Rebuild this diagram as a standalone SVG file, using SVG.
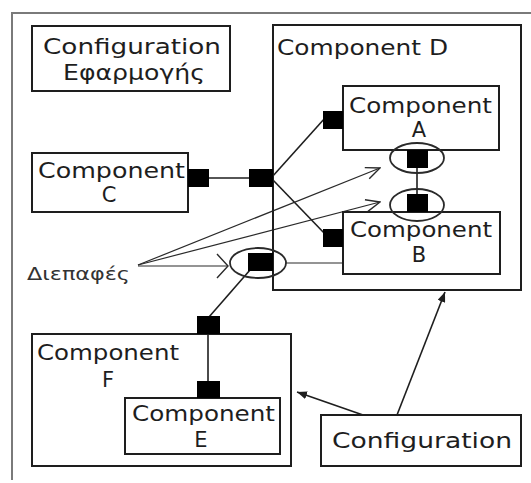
<svg xmlns="http://www.w3.org/2000/svg" width="531" height="483" viewBox="0 0 531 483">
  <style>
    .box { fill: none; stroke: #1e1e1e; stroke-width: 2; }
    .port { fill: #000; }
    .ring { fill: none; stroke: #2a2a2a; stroke-width: 1.8; }
    .wire { fill: none; stroke: #1e1e1e; stroke-width: 1.6; }
    .thin { fill: none; stroke: #2a2a2a; stroke-width: 1.2; }
    .lbl { font-family: "DejaVu Sans", "Liberation Sans", sans-serif; font-size: 21px; fill: #1e1e1e; }
    .mid { text-anchor: middle; }
    .small { font-size: 17px; fill: #333; }
  </style>
  <defs>
    <marker id="openHead" viewBox="0 0 16 14" refX="15" refY="7" markerWidth="16" markerHeight="14" markerUnits="userSpaceOnUse" orient="auto">
      <path d="M1,1 L15,7 L1,13" fill="none" stroke="#2a2a2a" stroke-width="1.4"/>
    </marker>
    <marker id="openWide" viewBox="0 0 13 26" refX="12" refY="13" markerWidth="13" markerHeight="26" markerUnits="userSpaceOnUse" orient="auto">
      <path d="M1,1 L12,13 L1,25" fill="none" stroke="#2a2a2a" stroke-width="1.4"/>
    </marker>
    <marker id="solidHead" viewBox="0 0 10 8" refX="10" refY="4" markerWidth="10" markerHeight="8" markerUnits="userSpaceOnUse" orient="auto">
      <path d="M0,0 L10,4 L0,8 Z" fill="#1e1e1e"/>
    </marker>
  </defs>

  <rect width="531" height="483" fill="#fff"/>

  <!-- outer frame (top and left edges) -->
  <path d="M12,480 L12,13 L531,13" fill="none" stroke="#7a7a7a" stroke-width="2"/>

  <g id="connectors">
    <!-- C to D -->
    <line class="wire" x1="209" y1="178" x2="249" y2="178"/>
    <!-- D to A and B -->
    <line class="wire" x1="272" y1="177" x2="325" y2="118"/>
    <line class="wire" x1="272" y1="179" x2="326" y2="235"/>
    <!-- A to B -->
    <line class="wire" x1="417" y1="168" x2="417" y2="195"/>
    <!-- lower D port to B -->
    <line class="thin" x1="286" y1="263" x2="343" y2="263"/>
    <!-- lower D port to F -->
    <line class="wire" x1="250" y1="270" x2="209" y2="317"/>
    <!-- F to E -->
    <line class="wire" x1="208" y1="334" x2="208" y2="381"/>
    <!-- interface pointers -->
    <line class="thin" x1="138" y1="266" x2="228" y2="266" marker-end="url(#openWide)"/>
    <line class="thin" x1="138" y1="265" x2="380" y2="168" marker-end="url(#openHead)"/>
    <line class="thin" x1="138" y1="265" x2="380" y2="202" marker-end="url(#openHead)"/>
    <!-- configuration links -->
    <line class="wire" x1="397" y1="415" x2="445" y2="292" marker-end="url(#solidHead)"/>
    <line class="wire" x1="363" y1="415" x2="297" y2="392" marker-end="url(#solidHead)"/>
  </g>

  <g id="app-config">
    <rect class="box" x="32" y="26" width="198" height="65"/>
    <text class="lbl mid" x="132" y="54" textLength="178" lengthAdjust="spacingAndGlyphs">Configuration</text>
    <text class="lbl mid" x="134" y="80" textLength="142" lengthAdjust="spacingAndGlyphs">Εφαρμογής</text>
  </g>

  <g id="component-c">
    <rect class="box" x="32" y="153" width="156" height="59"/>
    <rect class="port" x="188" y="169" width="21" height="18"/>
    <text class="lbl" x="38" y="178" textLength="147" lengthAdjust="spacingAndGlyphs">Component</text>
    <text class="lbl mid" x="109" y="202">C</text>
  </g>

  <g id="component-d">
    <rect class="box" x="273" y="25" width="248" height="265"/>
    <rect class="port" x="249" y="169" width="24" height="18"/>
    <rect class="port" x="248" y="253" width="25" height="18"/>
    <ellipse class="ring" cx="258" cy="263" rx="28" ry="15"/>
    <text class="lbl" x="277" y="55" textLength="171" lengthAdjust="spacingAndGlyphs">Component D</text>
  </g>

  <g id="component-a">
    <rect class="box" x="343" y="86" width="156" height="64"/>
    <rect class="port" x="323" y="111" width="20" height="18"/>
    <rect class="port" x="407" y="150" width="21" height="18"/>
    <ellipse class="ring" cx="417" cy="158" rx="27" ry="15"/>
    <text class="lbl" x="349" y="113" textLength="143" lengthAdjust="spacingAndGlyphs">Component</text>
    <text class="lbl mid" x="419" y="137">A</text>
  </g>

  <g id="component-b">
    <rect class="box" x="343" y="212" width="157" height="62"/>
    <rect class="port" x="323" y="229" width="20" height="18"/>
    <rect class="port" x="407" y="194" width="21" height="18"/>
    <ellipse class="ring" cx="417" cy="205" rx="27" ry="16"/>
    <text class="lbl" x="350" y="237" textLength="142" lengthAdjust="spacingAndGlyphs">Component</text>
    <text class="lbl mid" x="419" y="262">B</text>
  </g>

  <g id="component-f">
    <rect class="box" x="32" y="334" width="259" height="132"/>
    <rect class="port" x="197" y="316" width="23" height="18"/>
    <text class="lbl" x="37" y="360" textLength="142" lengthAdjust="spacingAndGlyphs">Component</text>
    <text class="lbl mid" x="108" y="387">F</text>
  </g>

  <g id="component-e">
    <rect class="box" x="125" y="398" width="155" height="56"/>
    <rect class="port" x="197" y="381" width="23" height="17"/>
    <text class="lbl" x="132" y="421" textLength="143" lengthAdjust="spacingAndGlyphs">Component</text>
    <text class="lbl mid" x="201" y="447">E</text>
  </g>

  <g id="configuration">
    <rect class="box" x="321" y="415" width="200" height="51"/>
    <text class="lbl" x="332" y="448" textLength="180" lengthAdjust="spacingAndGlyphs">Configuration</text>
  </g>

  <g id="interfaces-label">
    <text class="lbl small" x="27" y="280" textLength="103" lengthAdjust="spacingAndGlyphs">Διεπαφές</text>
  </g>
</svg>
